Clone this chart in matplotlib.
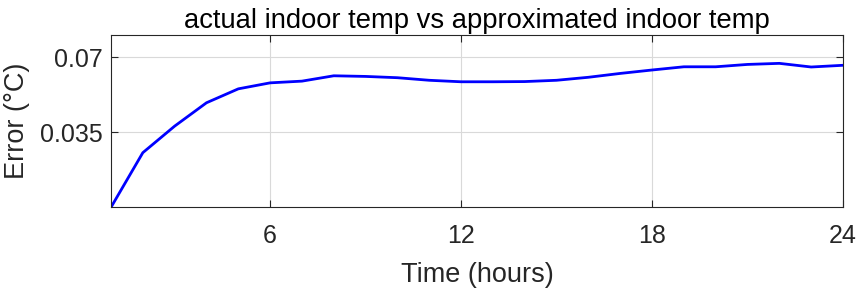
import matplotlib
matplotlib.use("Agg")
import matplotlib.pyplot as plt

hours = list(range(1, 25))
error = [0.0, 0.0255, 0.0379, 0.0488, 0.0553, 0.0581, 0.0589, 0.0614, 0.0611, 0.0605,
         0.0593, 0.0586, 0.0586, 0.0587, 0.0593, 0.0607, 0.0625, 0.0641, 0.0656, 0.0656,
         0.0667, 0.0672, 0.0655, 0.0663]
xticks = [6, 12, 18, 24]
yticks = [0.035, 0.07]
ytick_labels = ["0.035", "0.07"]

plt.rcParams['font.family'] = ['Liberation Sans', 'DejaVu Sans']
dark = (0.15, 0.15, 0.15)

fig = plt.figure(figsize=(8.65, 2.94), dpi=100)
ax = fig.add_axes([111/865, 1 - 207.3/294, (843 - 111)/865, (207.3 - 35.3)/294])
ax.plot(hours, error, color=(0, 0, 1), linewidth=2.0)
ax.set_xlim(1, 24)
ax.set_ylim(0, 0.0803)
ax.set_xticks(xticks)
ax.set_xticklabels([str(t) for t in xticks])
ax.set_yticks(yticks)
ax.set_yticklabels(ytick_labels)
ax.grid(True, color=(0.85, 0.85, 0.85), linewidth=0.8)
ax.set_axisbelow(True)
ax.tick_params(direction='in', length=5, width=0.8, colors=dark, labelsize=18,
               top=True, right=True)
ax.tick_params(axis='x', pad=12)
ax.tick_params(axis='y', pad=6)
for s in ax.spines.values():
    s.set_color(dark)
    s.set_linewidth(0.8)
ax.set_xlabel("Time (hours)", fontsize=19.5, color=dark, labelpad=10)
ax.set_ylabel("Error (°C)", fontsize=19.5, color=dark, labelpad=7)
ax.set_title("actual indoor temp vs approximated indoor temp", fontsize=19.7, color='black', pad=5)
fig.savefig("out.png", dpi=100)
